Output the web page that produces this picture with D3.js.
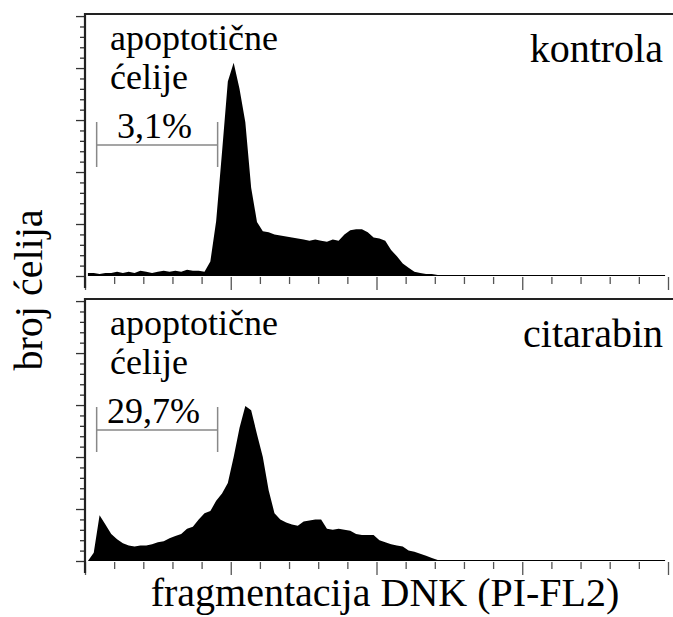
<!DOCTYPE html>
<html>
<head>
<meta charset="utf-8">
<script src="https://cdn.jsdelivr.net/npm/d3@7"></script>
</head>
<body style="margin:0">
<svg id="chart" width="673" height="617"></svg>
<script>
// histogram bins, 2 channels wide, channel range 0..200
var binWidth = 2;

var kontrola = [
	3, 3, 2, 3, 3, 4, 3, 4, 3, 5, 4, 3, 4, 5, 4, 5, 4, 6, 5, 5,
	4, 14, 53, 119, 187, 205, 180, 148, 85, 52, 43, 42, 40, 39, 38, 37, 36, 35, 34, 35,
	34, 33, 35, 34, 40, 44, 45, 45, 42, 37, 36, 34, 25, 19, 12, 8, 4, 3, 2, 2,
	1, 1, 1, 1, 1, 1, 1, 1, 1, 1, 1, 1, 1, 1, 1, 1, 1, 1, 1, 1,
	1, 1, 1, 1, 1, 1, 1, 1, 1, 1, 1, 1, 1, 1, 1, 1, 1, 1, 1, 1
];

var citarabin = [
	0, 8, 44, 35, 26, 21, 17, 15, 14, 15, 15, 16, 18, 19, 22, 24, 26, 31, 33, 40,
	46, 48, 58, 65, 75, 100, 128, 149, 145, 122, 100, 68, 46, 40, 37, 35, 34, 38, 39, 40,
	40, 31, 30, 31, 30, 29, 26, 25, 25, 25, 20, 18, 16, 15, 14, 10, 9, 7, 5, 3,
	1, 1, 1, 1, 1, 1, 1, 1, 1, 1, 1, 1, 1, 1, 1, 1, 1, 1, 1, 1,
	1, 1, 1, 1, 1, 1, 1, 1, 1, 1, 1, 1, 1, 1, 1, 1, 1, 1, 1, 1
];

var panelNames = ['kontrola', 'citarabin'];
var gateLabels = ['3,1%', '29,7%'];
var gateRange = [4, 45.5];
var series = [kontrola, citarabin];

var xMajor = d3.range(0, 201, 50);
var xMinor = d3.range(0, 201, 10).filter(function(d){ return d % 50 !== 0; });
var yMajor = d3.range(0, 251, 50);
var yMinor = d3.range(0, 251, 10).filter(function(d){ return d % 50 !== 0; });

var svg = d3.select('#chart');
var left = 85, right = 668;
var panelTops = [14, 299];
var panelHeight = 262;

var x = d3.scaleLinear().domain([0, 200]).range([left, right]);

// strip what d3.axis puts on its group, keep only tick lines
function tidy(a, color){
	a.select('.domain').remove();
	a.selectAll('text').remove();
	a.attr('font-family', null).attr('font-size', null).attr('text-anchor', null);
	a.selectAll('line').attr('stroke', color).attr('stroke-width', 1.3);
}

function label(sel, tx, ty, size, str){
	return sel.append('text')
		.attr('x', tx).attr('y', ty)
		.style('font', size + 'px "Liberation Serif", serif')
		.text(str);
}

panelTops.forEach(function(top, p){
	var base = top + panelHeight;
	var y = d3.scaleLinear().domain([0, 252]).range([base, top]);
	var g = svg.append('g');

	// histogram
	var area = d3.area()
		.x(function(d, i){ return x(i * binWidth + binWidth / 2); })
		.y0(base)
		.y1(function(d){ return y(d); });
	g.append('path')
		.datum(series[p])
		.attr('d', area)
		.attr('fill', '#000');

	// x ticks
	g.append('g')
		.attr('transform', 'translate(0,' + (base + 1) + ')')
		.call(d3.axisBottom(x).tickValues(xMinor).tickSize(7).tickFormat(''))
		.call(tidy, '#555');
	g.append('g')
		.attr('transform', 'translate(0,' + (base + 1) + ')')
		.call(d3.axisBottom(x).tickValues(xMajor).tickSize(13).tickFormat(''))
		.call(tidy, '#555');

	// y ticks
	g.append('g')
		.attr('transform', 'translate(' + left + ',0)')
		.call(d3.axisLeft(y).tickValues(yMinor).tickSize(5).tickFormat(''))
		.call(tidy, '#333');
	g.append('g')
		.attr('transform', 'translate(' + left + ',0)')
		.call(d3.axisLeft(y).tickValues(yMajor).tickSize(9).tickFormat(''))
		.call(tidy, '#333');

	// frame: left and top
	g.append('path')
		.attr('d', 'M' + left + ',' + (base + 12) + 'V' + top + 'H673')
		.attr('fill', 'none')
		.attr('stroke', '#222')
		.attr('stroke-width', 2.2);

	// gate marker
	var gy = top + 131;
	g.append('path')
		.attr('d', 'M' + x(gateRange[0]) + ',' + (gy - 23) + 'V' + (gy + 22)
			+ 'M' + x(gateRange[0]) + ',' + gy + 'H' + x(gateRange[1])
			+ 'M' + x(gateRange[1]) + ',' + (gy - 23) + 'V' + (gy + 22))
		.attr('fill', 'none')
		.attr('stroke', '#888')
		.attr('stroke-width', 1.5);

	label(svg, 110, top + 36, 36, 'apoptotične');
	label(svg, 110, top + 75, 36, 'ćelije');
	label(svg, p === 0 ? 117 : 107, top + 124, 36, gateLabels[p]);
	label(svg, 663, top + 48, 40, panelNames[p]).attr('text-anchor', 'end');
});

// axis titles
label(svg, 385, 606, 40, 'fragmentacija DNK (PI-FL2)')
	.attr('text-anchor', 'middle');

label(svg, 0, 0, 40, 'broj ćelija')
	.attr('transform', 'translate(42,290) rotate(-90)')
	.attr('text-anchor', 'middle');
</script>
</body>
</html>
